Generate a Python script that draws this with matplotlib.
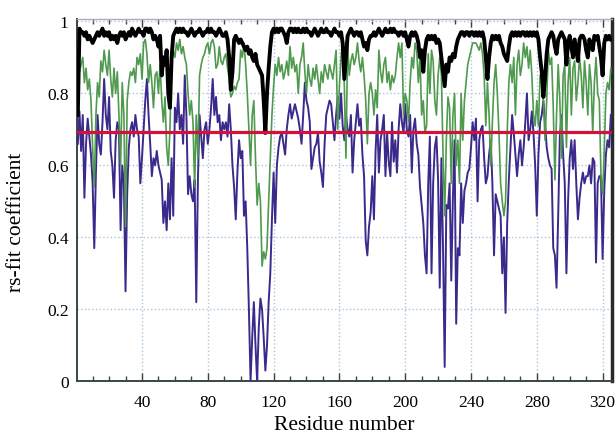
import matplotlib
matplotlib.use('Agg')
import matplotlib.pyplot as plt
from matplotlib.ticker import MultipleLocator, FixedLocator
import numpy as np

# valores ----------------------------------------------------------------------
residues = np.arange(1, 326)

# rs-fit, modelo final (negro)
rsfit_black = [
    0.74, 0.98, 0.97, 0.97, 0.96, 0.97, 0.95, 0.96, 0.95, 0.94,
    0.95, 0.96, 0.97, 0.96, 0.97, 0.98, 0.96, 0.97, 0.96, 0.97,
    0.95, 0.96, 0.95, 0.96, 0.94, 0.96, 0.97, 0.96, 0.97, 0.95,
    0.96, 0.97, 0.96, 0.98, 0.97, 0.96, 0.97, 0.98, 0.97, 0.97,
    0.96, 0.98, 0.98, 0.97, 0.98, 0.97, 0.95, 0.96, 0.95, 0.93,
    0.96, 0.85, 0.90, 0.88, 0.92, 0.80, 0.76, 0.90, 0.96, 0.97,
    0.98, 0.97, 0.98, 0.97, 0.98, 0.97, 0.97, 0.96, 0.97, 0.98,
    0.97, 0.96, 0.97, 0.97, 0.98, 0.97, 0.96, 0.97, 0.97, 0.98,
    0.97, 0.98, 0.97, 0.97, 0.96, 0.97, 0.98, 0.97, 0.96, 0.96,
    0.97, 0.95, 0.90, 0.81, 0.86, 0.95, 0.96, 0.95, 0.94, 0.95,
    0.94, 0.93, 0.92, 0.93, 0.91, 0.92, 0.90, 0.89, 0.91, 0.88,
    0.87, 0.86, 0.85, 0.78, 0.69, 0.80, 0.87, 0.93, 0.97, 0.98,
    0.97, 0.98, 0.97, 0.98, 0.98, 0.97, 0.96, 0.94, 0.97, 0.98,
    0.98, 0.97, 0.98, 0.97, 0.98, 0.97, 0.97, 0.98, 0.97, 0.98,
    0.97, 0.97, 0.96, 0.97, 0.98, 0.97, 0.96, 0.97, 0.98, 0.97,
    0.97, 0.98, 0.97, 0.97, 0.96, 0.97, 0.98, 0.97, 0.97, 0.96,
    0.97, 0.94, 0.84, 0.90, 0.96, 0.97, 0.98, 0.97, 0.96, 0.97,
    0.97, 0.96, 0.97, 0.95, 0.93, 0.94, 0.92, 0.95, 0.96, 0.96,
    0.97, 0.96, 0.97, 0.98, 0.97, 0.96, 0.97, 0.98, 0.97, 0.97,
    0.98, 0.97, 0.98, 0.97, 0.97, 0.96, 0.97, 0.97, 0.96, 0.97,
    0.95, 0.93, 0.96, 0.97, 0.96, 0.97, 0.96, 0.94, 0.90, 0.92,
    0.86, 0.92, 0.95, 0.96, 0.95, 0.96, 0.95, 0.96, 0.94, 0.95,
    0.94, 0.90, 0.86, 0.82, 0.88, 0.86, 0.90, 0.89, 0.91, 0.90,
    0.93, 0.95, 0.96, 0.97, 0.97, 0.96, 0.97, 0.97, 0.96, 0.97,
    0.97, 0.96, 0.97, 0.96, 0.97, 0.96, 0.97, 0.95, 0.90, 0.84,
    0.90, 0.94, 0.96, 0.95, 0.96, 0.95, 0.96, 0.94, 0.93, 0.91,
    0.90, 0.89, 0.93, 0.96, 0.97, 0.96, 0.97, 0.96, 0.97, 0.96,
    0.97, 0.97, 0.96, 0.97, 0.96, 0.97, 0.96, 0.97, 0.96, 0.97,
    0.95, 0.90, 0.86, 0.79, 0.84, 0.91, 0.95, 0.96, 0.97, 0.96,
    0.93, 0.91, 0.95, 0.96, 0.97, 0.96, 0.95, 0.88, 0.94, 0.96,
    0.93, 0.90, 0.95, 0.92, 0.89, 0.95, 0.96, 0.96, 0.95, 0.92,
    0.90, 0.95, 0.93, 0.92, 0.96, 0.95, 0.96, 0.93, 0.90, 0.85,
    0.94, 0.96, 0.95, 0.96, 0.95,
]

# rs-fit, modelo intermedio (verde)
rsfit_green = [
    0.88, 0.86, 0.88, 0.90, 0.83, 0.87, 0.81, 0.84, 0.78, 0.65,
    0.54, 0.74, 0.83, 0.79, 0.89, 0.86, 0.92, 0.88, 0.85, 0.92,
    0.84, 0.79, 0.87, 0.80, 0.86, 0.74, 0.60, 0.83, 0.74, 0.43,
    0.78, 0.83, 0.86, 0.85, 0.87, 0.83, 0.90, 0.88, 0.91, 0.84,
    0.94, 0.95, 0.91, 0.83, 0.88, 0.83, 0.76, 0.85, 0.86, 0.80,
    0.88, 0.78, 0.72, 0.79, 0.65, 0.60, 0.70, 0.88, 0.92, 0.90,
    0.94, 0.92, 0.95, 0.91, 0.93, 0.90, 0.88, 0.80, 0.74, 0.78,
    0.72, 0.54, 0.74, 0.62, 0.85, 0.88, 0.90, 0.91, 0.93, 0.94,
    0.91, 0.94, 0.95, 0.93, 0.87, 0.88, 0.93, 0.89, 0.88, 0.90,
    0.91, 0.87, 0.84, 0.79, 0.80, 0.82, 0.81, 0.83, 0.84, 0.92,
    0.90, 0.94, 0.88, 0.80, 0.70, 0.60, 0.74, 0.78, 0.62, 0.49,
    0.55, 0.50, 0.32, 0.36, 0.34, 0.37, 0.50, 0.62, 0.74, 0.82,
    0.88, 0.85, 0.90, 0.86, 0.88, 0.84, 0.86, 0.89, 0.85, 0.93,
    0.87, 0.90, 0.86, 0.88, 0.80, 0.88, 0.90, 0.94, 0.86, 0.80,
    0.88, 0.84, 0.82, 0.87, 0.84, 0.88, 0.84, 0.80, 0.86, 0.83,
    0.88, 0.86, 0.84, 0.88, 0.86, 0.84, 0.88, 0.92, 0.70, 0.82,
    0.90, 0.95, 0.82, 0.62, 0.94, 0.85, 0.89, 0.91, 0.88, 0.90,
    0.94, 0.89, 0.86, 0.90, 0.85, 0.78, 0.66, 0.80, 0.83, 0.80,
    0.74, 0.81, 0.76, 0.92, 0.86, 0.83, 0.88, 0.90, 0.83, 0.86,
    0.81, 0.85, 0.83, 0.85, 0.90, 0.94, 0.90, 0.94, 0.74, 0.80,
    0.78, 0.72, 0.83, 0.90, 0.87, 0.94, 0.92, 0.83, 0.90, 0.74,
    0.78, 0.69, 0.71, 0.91, 0.80, 0.92, 0.89, 0.78, 0.74, 0.85,
    0.90, 0.85, 0.63, 0.46, 0.67, 0.79, 0.76, 0.55, 0.74, 0.80,
    0.60, 0.67, 0.55, 0.80, 0.67, 0.78, 0.83, 0.88, 0.90, 0.92,
    0.94, 0.94, 0.94, 0.93, 0.92, 0.94, 0.91, 0.85, 0.71, 0.83,
    0.74, 0.60, 0.72, 0.83, 0.88, 0.80, 0.69, 0.55, 0.50, 0.46,
    0.50, 0.69, 0.83, 0.88, 0.83, 0.90, 0.74, 0.88, 0.92, 0.85,
    0.88, 0.94, 0.90, 0.93, 0.87, 0.92, 0.85, 0.74, 0.71, 0.78,
    0.71, 0.85, 0.83, 0.78, 0.67, 0.78, 0.92, 0.88, 0.90, 0.76,
    0.56, 0.74, 0.88, 0.78, 0.62, 0.85, 0.88, 0.65, 0.83, 0.90,
    0.74, 0.87, 0.89, 0.78, 0.83, 0.90, 0.85, 0.76, 0.89, 0.83,
    0.74, 0.88, 0.83, 0.69, 0.83, 0.90, 0.80, 0.78, 0.57, 0.52,
    0.64, 0.80, 0.83, 0.81, 0.87,
]

# rs-fit, modelo inicial (morado)
rsfit_purple = [
    0.66, 0.75, 0.64, 0.74, 0.51, 0.66, 0.73, 0.68, 0.63, 0.55,
    0.37, 0.58, 0.74, 0.66, 0.63, 0.72, 0.84, 0.74, 0.70, 0.79,
    0.64, 0.60, 0.51, 0.67, 0.72, 0.70, 0.42, 0.60, 0.55, 0.25,
    0.52, 0.65, 0.70, 0.72, 0.68, 0.74, 0.70, 0.68, 0.55, 0.62,
    0.70, 0.78, 0.84, 0.74, 0.66, 0.57, 0.62, 0.60, 0.64, 0.60,
    0.58, 0.56, 0.44, 0.50, 0.42, 0.55, 0.45, 0.62, 0.46, 0.76,
    0.72, 0.80, 0.70, 0.74, 0.66, 0.85, 0.74, 0.52, 0.57, 0.52,
    0.50, 0.56, 0.22, 0.56, 0.74, 0.68, 0.62, 0.70, 0.72, 0.66,
    0.70, 0.76, 0.84, 0.74, 0.79, 0.72, 0.74, 0.67, 0.72, 0.70,
    0.72, 0.68, 0.77, 0.70, 0.60, 0.54, 0.45, 0.58, 0.67, 0.62,
    0.64, 0.46, 0.50, 0.37, 0.20, 0.00, 0.12, 0.22, 0.10, 0.00,
    0.15, 0.23, 0.20, 0.12, 0.03, 0.10, 0.22, 0.30, 0.45, 0.58,
    0.44, 0.60, 0.65, 0.68, 0.69, 0.66, 0.63, 0.70, 0.74, 0.77,
    0.73, 0.75, 0.77, 0.75, 0.73, 0.70, 0.66, 0.74, 0.83, 0.78,
    0.76, 0.72, 0.59, 0.62, 0.65, 0.66, 0.69, 0.61, 0.58, 0.54,
    0.66, 0.74, 0.76, 0.78, 0.77, 0.72, 0.67, 0.74, 0.79, 0.73,
    0.80, 0.71, 0.67, 0.74, 0.70, 0.68, 0.74, 0.58, 0.67, 0.72,
    0.77, 0.71, 0.73, 0.63, 0.57, 0.39, 0.35, 0.43, 0.47, 0.57,
    0.45, 0.64, 0.74, 0.58, 0.67, 0.70, 0.74, 0.57, 0.69, 0.61,
    0.57, 0.72, 0.61, 0.67, 0.58, 0.70, 0.77, 0.72, 0.69, 0.77,
    0.70, 0.68, 0.74, 0.58, 0.70, 0.73, 0.66, 0.63, 0.54, 0.49,
    0.44, 0.35, 0.30, 0.55, 0.68, 0.30, 0.55, 0.65, 0.68, 0.56,
    0.26, 0.62, 0.37, 0.04, 0.49, 0.48, 0.55, 0.28, 0.51, 0.67,
    0.16, 0.37, 0.35, 0.55, 0.44, 0.53, 0.55, 0.58, 0.59, 0.65,
    0.72, 0.67, 0.73, 0.50, 0.67, 0.70, 0.71, 0.62, 0.55, 0.57,
    0.63, 0.67, 0.55, 0.35, 0.52, 0.50, 0.48, 0.46, 0.30, 0.40,
    0.19, 0.44, 0.56, 0.65, 0.74, 0.69, 0.63, 0.57, 0.63, 0.67,
    0.60, 0.65, 0.72, 0.80, 0.67, 0.70, 0.75, 0.69, 0.60, 0.46,
    0.63, 0.72, 0.74, 0.78, 0.72, 0.65, 0.62, 0.60, 0.59, 0.37,
    0.35, 0.26, 0.46, 0.68, 0.74, 0.63, 0.55, 0.30, 0.50, 0.62,
    0.67, 0.59, 0.67, 0.55, 0.45, 0.51, 0.55, 0.58, 0.55, 0.57,
    0.57, 0.60, 0.55, 0.62, 0.61, 0.33, 0.55, 0.57, 0.57, 0.34,
    0.53, 0.63, 0.67, 0.65, 0.74,
]

threshold = 0.693
xticks = [40, 80, 120, 160, 200, 240, 280, 320]
yticks = [0, 0.2, 0.4, 0.6, 0.8, 1.0]
ytick_labels = ['0', '0.2', '0.4', '0.6', '0.8', '1']

# figura -----------------------------------------------------------------------
plt.rcParams['font.family'] = ['Liberation Serif', 'DejaVu Serif']

fig = plt.figure(figsize=(6.15, 4.35), dpi=100)
ax = fig.add_axes([0.1252, 0.1211, 0.8707, 0.834])

ax.plot(residues, rsfit_purple, color='#3b2a8c', lw=1.4, zorder=3)
ax.plot(residues, rsfit_green, color='#4f9a4f', lw=1.2, zorder=4)
ax.plot(residues, rsfit_black, color='black', lw=2.8, zorder=5)
ax.axhline(threshold, color='#d4103c', lw=2.3, zorder=6)

ax.set_xlim(0.5, 326)
ax.set_ylim(0, 1.008)

ax.xaxis.set_major_locator(FixedLocator(xticks))
ax.xaxis.set_minor_locator(MultipleLocator(10))
ax.set_yticks(yticks)
ax.set_yticklabels(ytick_labels)

ax.grid(True, which='major', color='#a9c6da', linestyle=':', lw=1.0, zorder=0)

ax.tick_params(axis='x', which='major', direction='in', length=6, width=1.0,
               color='#3a4646', top=True, labelsize=12.5, pad=9)
ax.tick_params(axis='x', which='minor', direction='in', length=3.5, width=1.0,
               color='#3a4646', top=True)
ax.tick_params(axis='y', length=0, labelsize=12.5, pad=6)

for s in ['left', 'bottom']:
    ax.spines[s].set_color('#3a4646')
    ax.spines[s].set_linewidth(1.4)
ax.spines['top'].set_color('#b9a3c9')
ax.spines['top'].set_linewidth(1.0)
ax.spines['right'].set_color('#2b2b2b')
ax.spines['right'].set_linewidth(2.5)

ax.set_xlabel('Residue number', fontsize=15.5)
ax.set_ylabel('rs-fit coefficient', fontsize=15.5)
ax.xaxis.set_label_coords(0.5, -0.094)
ax.yaxis.set_label_coords(-0.095, 0.44)

fig.savefig('out.png', dpi=100)
